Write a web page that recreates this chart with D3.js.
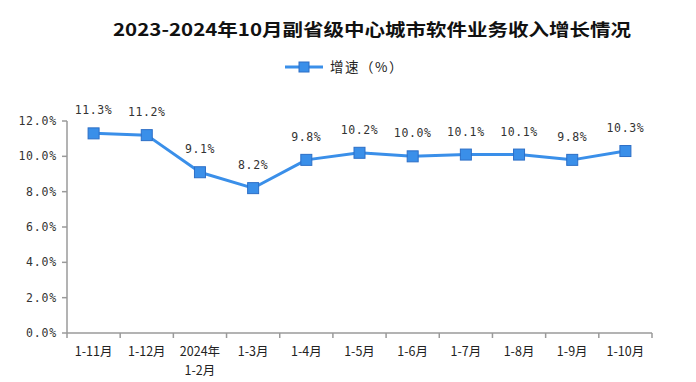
<!DOCTYPE html>
<html><head><meta charset="utf-8">
<script src="https://cdn.jsdelivr.net/npm/d3@7"></script>
<style>body{margin:0;background:#fff}svg{display:block}</style>
</head><body><svg id="c" width="696" height="382"></svg>
<script>
const title = "2023-2024年10月副省级中心城市软件业务收入增长情况";
const seriesName = "增速（%）";
const categories = ["1-11月","1-12月","2024年\n1-2月","1-3月","1-4月","1-5月","1-6月","1-7月","1-8月","1-9月","1-10月"];
const growth = [11.3, 11.2, 9.1, 8.2, 9.8, 10.2, 10.0, 10.1, 10.1, 9.8, 10.3];
const yTicks = [0, 2, 4, 6, 8, 10, 12];

(function () {
const svg = d3.select("#c");
const pL = 67, pR = 652, pT = 121, pB = 333;
const blue = "#3a8fe9", blueDark = "#2c6ec6", axisCol = "#9a9a9a";
const monoFont = "'DejaVu Sans Mono', 'Liberation Mono', monospace";
const cjkFont = "'Noto Sans CJK SC', sans-serif";

const x = d3.scaleBand().domain(categories).range([pL, pR]).padding(0);
const y = d3.scaleLinear().domain([0, 12]).range([pB, pT]);

// title
svg.append("text").attr("x", 372).attr("y", 36).attr("text-anchor", "middle")
  .attr("font-family", cjkFont).attr("font-weight", "bold").attr("font-size", 17.5)
  .attr("fill", "#111").attr("textLength", 518).attr("lengthAdjust", "spacingAndGlyphs")
  .text(title);

// legend
const lg = svg.append("g");
lg.append("line").attr("x1", 285).attr("x2", 323).attr("y1", 67).attr("y2", 67)
  .attr("stroke", blue).attr("stroke-width", 3);
lg.append("rect").attr("x", 299).attr("y", 62).attr("width", 10).attr("height", 10)
  .attr("fill", blue).attr("stroke", blueDark).attr("stroke-width", 1);
lg.append("text").attr("x", 330).attr("y", 72).attr("font-family", cjkFont)
  .attr("font-size", 13.5).attr("letter-spacing", 1.5).attr("fill", "#222").text(seriesName);

// y axis
const ya = svg.append("g");
ya.append("line").attr("x1", pL).attr("x2", pL).attr("y1", y(12)).attr("y2", y(0))
  .attr("stroke", axisCol).attr("stroke-width", 1.5);
ya.selectAll(".yt").data(yTicks).join("line")
  .attr("x1", pL - 5).attr("x2", pL).attr("y1", d => y(d)).attr("y2", d => y(d))
  .attr("stroke", axisCol).attr("stroke-width", 1.5);
ya.selectAll(".yl").data(yTicks).join("text")
  .attr("x", pL - 10).attr("y", d => y(d) + 4).attr("text-anchor", "end")
  .attr("font-family", monoFont).attr("font-size", 11.5).attr("letter-spacing", 0.8)
  .attr("fill", "#333").text(d => d3.format(".1f")(d) + "%");

// x axis
const xa = svg.append("g");
xa.append("line").attr("x1", pL).attr("x2", pR).attr("y1", pB).attr("y2", pB)
  .attr("stroke", axisCol).attr("stroke-width", 1.5);
const bounds = categories.map(c => x(c)).concat([x.range()[1]]);
xa.selectAll(".xt").data(bounds).join("line")
  .attr("x1", d => d).attr("x2", d => d).attr("y1", pB).attr("y2", pB + 5)
  .attr("stroke", axisCol).attr("stroke-width", 1.5);
categories.forEach((d) => {
  d.split("\n").forEach((s, i) => {
    xa.append("text").attr("text-anchor", "middle").attr("font-family", cjkFont)
      .attr("font-size", 12.5).attr("fill", "#222")
      .attr("x", x(d) + x.bandwidth() / 2).attr("y", 356 + i * 18.5).text(s);
  });
});

// line
const cx = (d, i) => x(categories[i]) + x.bandwidth() / 2;
svg.append("path").datum(growth)
  .attr("d", d3.line().x((d, i) => cx(d, i)).y(d => y(d)))
  .attr("fill", "none").attr("stroke", blue).attr("stroke-width", 3).attr("stroke-linejoin", "round");
svg.selectAll(".mk").data(growth).join("rect")
  .attr("x", (d, i) => cx(d, i) - 5.5).attr("y", d => y(d) - 5.5)
  .attr("width", 11).attr("height", 11)
  .attr("fill", blue).attr("stroke", blueDark).attr("stroke-width", 1);
svg.selectAll(".lb").data(growth).join("text")
  .attr("x", (d, i) => cx(d, i)).attr("y", d => y(d) - 19).attr("text-anchor", "middle")
  .attr("font-family", monoFont).attr("font-size", 11.5).attr("letter-spacing", 0.6)
  .attr("fill", "#333").text(d => d3.format(".1f")(d) + "%");
})();
</script></body></html>
